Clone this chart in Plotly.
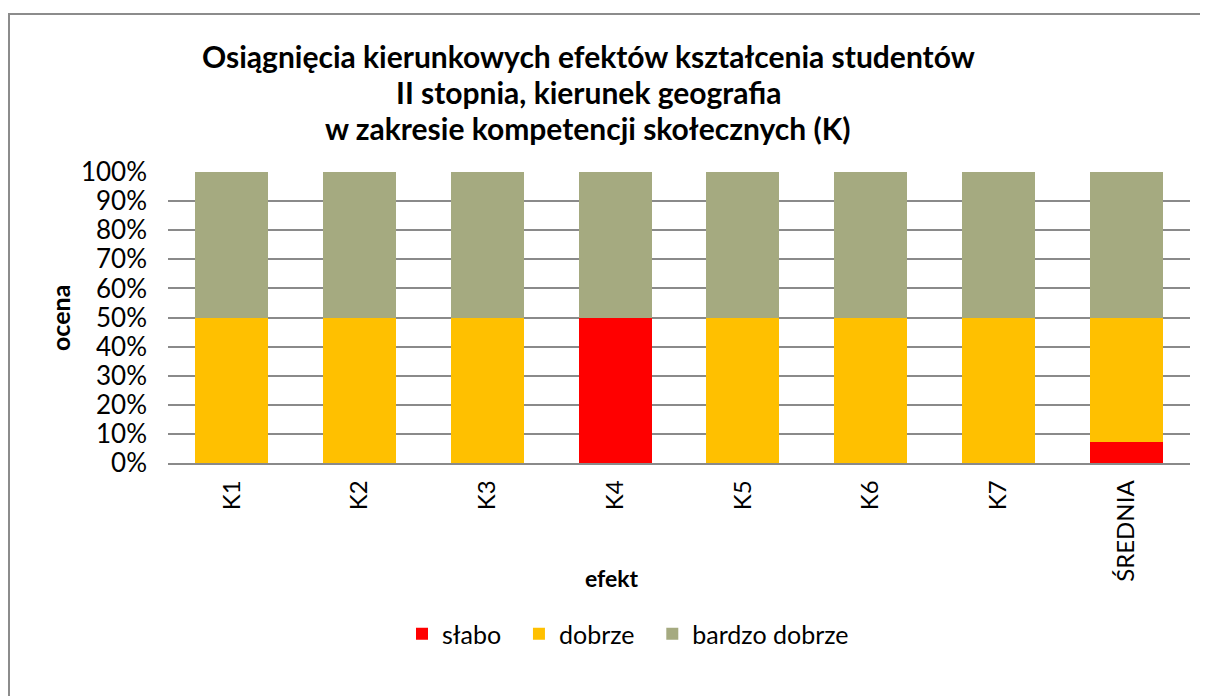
import plotly.graph_objects as go

# data
efekty = ["K1", "K2", "K3", "K4", "K5", "K6", "K7", "ŚREDNIA"]
slabo = [0, 0, 0, 50, 0, 0, 0, 7.14]
dobrze = [50, 50, 50, 0, 50, 50, 50, 42.86]
bardzo_dobrze = [50, 50, 50, 50, 50, 50, 50, 50]
tytul = [
    "Osiągnięcia kierunkowych efektów kształcenia studentów",
    "II stopnia, kierunek geografia",
    "w zakresie kompetencji skołecznych (K)",
]

OFF = 8  # body margin of the page
W, H = 1200, 688
ML, MR, MT, MB = 160, 18, 164, 233
PW, PH = W - ML - MR, H - MT - MB
FONT = "Lato, 'DejaVu Sans', sans-serif"
GRID = "#8a8a8a"
PAD = "\u00a0\u00a0"  # widens legend entries a little


def px_x(x):
    # page pixel -> paper fraction
    return (x - OFF - ML) / PW


def px_y(y):
    return (H - MB - (y - OFF)) / PH


fig = go.Figure()
fig.add_trace(go.Bar(x=efekty, y=slabo, name="słabo" + PAD, marker_color="#FF0000"))
fig.add_trace(go.Bar(x=efekty, y=dobrze, name="dobrze" + PAD, marker_color="#FFC000"))
fig.add_trace(go.Bar(x=efekty, y=bardzo_dobrze, name="bardzo dobrze", marker_color="#A5AA80"))
fig.update_traces(marker_line_width=0)

annotations = []
for i, line in enumerate(tytul):
    annotations.append(dict(
        text=f"<b>{line}</b>", xref="paper", yref="paper",
        x=px_x(588), y=px_y(56 + 36 * i), xanchor="center", yanchor="middle",
        showarrow=False, font=dict(family=FONT, size=30, color="#000"),
    ))
annotations.append(dict(
    text="<b>efekt</b>", xref="paper", yref="paper", x=px_x(612), y=px_y(578),
    xanchor="center", yanchor="middle", showarrow=False,
    font=dict(family=FONT, size=23, color="#000"),
))
annotations.append(dict(
    text="<b>ocena</b>", xref="paper", yref="paper", x=px_x(60), y=px_y(318),
    xanchor="center", yanchor="middle", showarrow=False, textangle=-90,
    font=dict(family=FONT, size=25, color="#000"),
))

fig.update_layout(
    width=W, height=H,
    barmode="stack", bargap=0.43,
    paper_bgcolor="white", plot_bgcolor="white",
    margin=dict(l=ML, r=MR, t=MT, b=MB, autoexpand=False),
    font=dict(family=FONT, color="#000"),
    annotations=annotations,
    showlegend=True,
    legend=dict(
        orientation="h", xref="paper", yref="paper",
        x=px_x(628), y=px_y(634), xanchor="center", yanchor="middle",
        font=dict(family=FONT, size=25, color="#000"),
        traceorder="normal",
    ),
    shapes=[dict(
        type="rect", xref="paper", yref="paper",
        x0=px_x(9), x1=px_x(1220), y0=px_y(14), y1=px_y(710),
        line=dict(color="#8c8c8c", width=2), layer="below",
    )],
)
fig.update_xaxes(
    tickangle=-90, ticks="", showgrid=False, showline=True, linecolor=GRID, linewidth=1.5,
    tickfont=dict(family=FONT, size=24, color="#000"), ticklabelstandoff=6,
)
fig.update_yaxes(
    range=[0, 100], dtick=10, ticksuffix="%", showgrid=True, gridcolor=GRID, gridwidth=1.5,
    zeroline=False, showline=False, ticks="",
    tickfont=dict(family=FONT, size=26, color="#000"), ticklabelstandoff=20,
)

fig.write_html("out.html")
